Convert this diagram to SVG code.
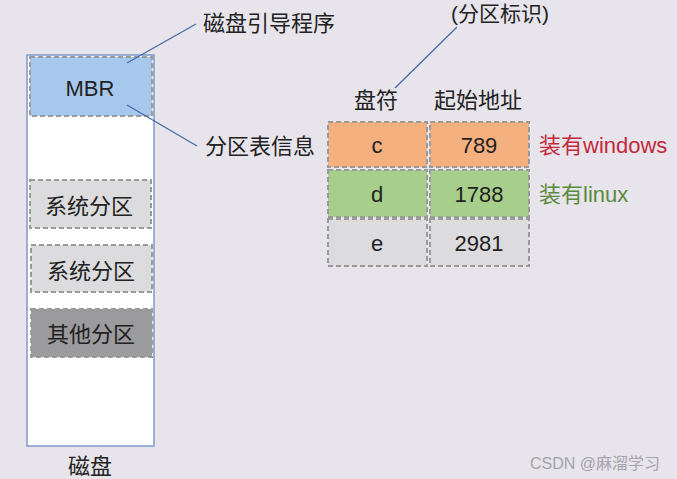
<svg xmlns="http://www.w3.org/2000/svg" width="677" height="479" viewBox="0 0 677 479">
<style>
text{font-family:"Liberation Sans","Noto Sans CJK SC",sans-serif;font-size:22px;fill:#222;text-anchor:middle;dominant-baseline:central}
.d{stroke:#9a9a9a;stroke-width:2;stroke-dasharray:5 3}
.ln{stroke:#4a6aa8;stroke-width:1.3;fill:none}
.l{text-anchor:start}
</style>
<rect width="677" height="479" fill="#e7e4eb"/>
<g id="disk">
<rect x="27" y="55" width="127" height="391" fill="#fff" stroke="#7f98c8" stroke-width="1.5"/>
<text x="90" y="466">磁盘</text>
</g>
<g id="mbr">
<rect class="d" x="30" y="57" width="122" height="59" fill="#a6c8ec"/>
<text x="90" y="88">MBR</text>
</g>
<g id="sys1">
<rect class="d" x="30" y="180" width="121" height="48" fill="#dcdbdd"/>
<text x="89" y="206">系统分区</text>
</g>
<g id="sys2">
<rect class="d" x="31" y="245" width="121" height="47" fill="#dcdbdd"/>
<text x="91" y="271">系统分区</text>
</g>
<g id="other">
<rect class="d" x="31" y="309" width="121" height="48" fill="#9b9a9c"/>
<text x="91" y="334">其他分区</text>
</g>
<g id="label-boot"><text class="l" x="203" y="23">磁盘引导程序</text></g>
<g id="label-table"><text class="l" x="205" y="146">分区表信息</text></g>
<g id="label-id"><text x="500" y="13" style="font-size:21px">(分区标识)</text></g>
<g id="hdr1"><text x="376" y="100">盘符</text></g>
<g id="hdr2"><text x="478" y="100">起始地址</text></g>
<g id="row-c">
<rect class="d" x="328" y="122" width="99" height="45" fill="#f5b07f"/>
<rect class="d" x="430" y="122" width="99" height="45" fill="#f5b07f"/>
<text x="377" y="145">c</text>
<text x="479" y="145">789</text>
</g>
<g id="row-d">
<rect class="d" x="328" y="170" width="99" height="47" fill="#a7cf8b"/>
<rect class="d" x="430" y="170" width="99" height="47" fill="#a7cf8b"/>
<text x="377" y="194">d</text>
<text x="479" y="194">1788</text>
</g>
<g id="row-e">
<rect class="d" x="328" y="219" width="99" height="47" fill="#dcdbdd"/>
<rect class="d" x="430" y="219" width="99" height="47" fill="#dcdbdd"/>
<text x="377" y="243">e</text>
<text x="479" y="243">2981</text>
</g>
<g id="label-win"><text class="l" x="539" y="145" style="fill:#c42a3c">装有windows</text></g>
<g id="label-linux"><text class="l" x="539" y="194" style="fill:#5c8a3c">装有linux</text></g>
<g id="connectors">
<line class="ln" x1="127" y1="63" x2="196" y2="24"/>
<line class="ln" x1="127" y1="105" x2="197" y2="146"/>
<line class="ln" x1="457" y1="27" x2="395" y2="88"/>
</g>
<text x="595" y="463" style="font-size:16px;fill:#a5a3ab">CSDN @麻溜学习</text>
</svg>
